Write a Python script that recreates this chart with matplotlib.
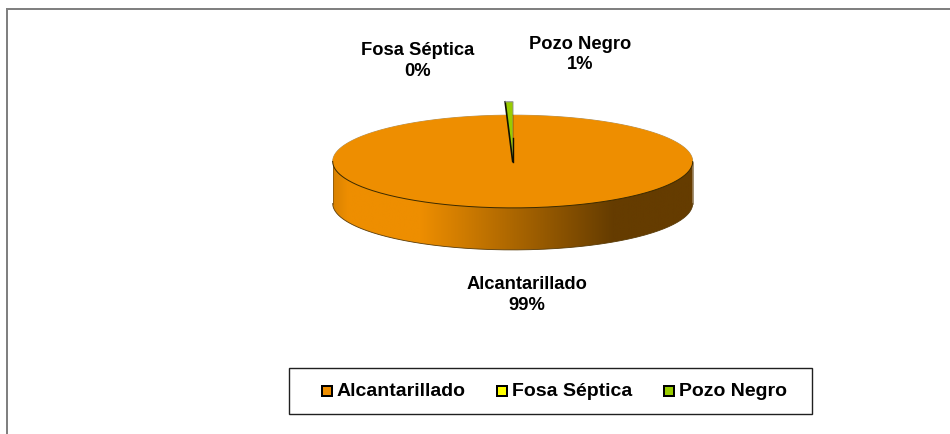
"""Recreate the 3D style pie of sanitation types (Alcantarillado, Fosa Septica, Pozo Negro)."""

import matplotlib

matplotlib.use("Agg")

import matplotlib.patches as mpatches
import matplotlib.pyplot as plt
import numpy as np
from matplotlib.colors import LinearSegmentedColormap

plt.rcParams["font.family"] = ["Liberation Sans", "DejaVu Sans"]

CATEGORIES = ["Alcantarillado", "Fosa Séptica", "Pozo Negro"]
VALUES = [99.48, 0.0, 0.52]
PERCENT_LABELS = ["99%", "0%", "1%"]
COLORS = ["#ee8e00", "#ffff00", "#99cc00"]

WIDTH, HEIGHT = 950, 434
CX, CY = 512.7, 161.5
RX, RY = 180.0, 46.4
DEPTH = 42.0
EXPLODE = {"Pozo Negro": 1.287}


def wedge_polygon(start_deg, end_deg, radius_scale=1.0):
    angles = np.radians(np.linspace(start_deg, end_deg, 400))
    xs = CX + RX * radius_scale * np.cos(angles)
    ys = CY - RY * radius_scale * np.sin(angles)
    return np.column_stack([np.r_[CX, xs], np.r_[CY, ys]])


fig = plt.figure(figsize=(WIDTH / 100, HEIGHT / 100), dpi=100)
ax = fig.add_axes([0, 0, 1, 1])
ax.set_xlim(0, WIDTH)
ax.set_ylim(HEIGHT, 0)
ax.axis("off")

# outer chart frame, only top and left are inside the picture
ax.plot([7, 7, WIDTH], [HEIGHT, 9, 9], color="#808080", lw=1.44, solid_joinstyle="miter")

# side wall of the pie with the left-to-right shading
side_cmap = LinearSegmentedColormap.from_list(
    "side",
    [(0.0, "#d98200"), (0.04, "#ee8e00"), (0.24, "#ee8e00"),
     (0.78, "#653c00"), (1.0, "#653c00")],
)
gradient = np.linspace(0, 1, 512).reshape(1, -1)
side_image = ax.imshow(
    gradient,
    extent=[CX - RX, CX + RX, CY + RY + DEPTH, CY - RY],
    cmap=side_cmap,
    aspect="auto",
    zorder=2,
)
angles = np.radians(np.linspace(180, 360, 300))
bottom_x = CX + RX * np.cos(angles)
bottom_y = CY - RY * np.sin(angles) + DEPTH
side_outline = np.column_stack(
    [np.r_[CX - RX, bottom_x, CX + RX], np.r_[CY, bottom_y, CY]]
)
side_patch = mpatches.Polygon(side_outline, closed=True, transform=ax.transData)
side_image.set_clip_path(side_patch)
ax.plot(bottom_x, bottom_y, color="#5a3c08", lw=0.6, zorder=3)
ax.plot([CX - RX, CX - RX], [CY, CY + DEPTH], color="#7a5010", lw=0.5, zorder=3)
ax.plot([CX + RX, CX + RX], [CY, CY + DEPTH], color="#5a3c08", lw=0.4, zorder=3)

# top face, slices start at twelve o'clock and run clockwise
start = 90.0
for name, value, color in zip(CATEGORIES, VALUES, COLORS):
    sweep = 360.0 * value / sum(VALUES)
    if sweep > 0:
        scale = EXPLODE.get(name, 1.0)
        polygon = wedge_polygon(start - sweep, start, scale)
        ax.add_patch(
            mpatches.Polygon(polygon, closed=True, facecolor=color, edgecolor="none", zorder=4)
        )
        if name in EXPLODE:
            # dark cut faces of the thin pulled slice, heavier near the tip
            tip = polygon[0]
            right_end = polygon[1]
            left_end = polygon[-1]
            ax.plot(
                [tip[0], left_end[0]], [tip[1], left_end[1]], color="#101000", lw=1.2, zorder=6
            )
            ax.plot(
                [tip[0], right_end[0]], [tip[1], right_end[1]], color="#101000", lw=0.3, zorder=6
            )
            ax.plot(
                [tip[0], tip[0] + 0.4 * (right_end[0] - tip[0])],
                [tip[1], tip[1] + 0.4 * (right_end[1] - tip[1])],
                color="#101000", lw=1.0, zorder=6,
            )
            ax.plot(polygon[1:, 0], polygon[1:, 1], color="#909090", lw=0.8, zorder=6)
    start -= sweep

# rim of the top face, lighter on the far side
rim = np.radians(np.linspace(0, 180, 300))
rim_x = CX + RX * np.cos(rim)
rim_y = CY - RY * np.sin(rim)
ax.plot(rim_x, rim_y, color="#a08a60", lw=0.6, zorder=3.5)
ax.plot(rim_x, 2 * CY - rim_y, color="#3a2a00", lw=0.7, zorder=5)

# data labels
label_style = dict(
    ha="center", va="center", fontsize=13.2, fontweight="bold", color="black",
    linespacing=1.27,
)
ax.text(527, 295, f"{CATEGORIES[0]}\n{PERCENT_LABELS[0]}", **label_style)
ax.text(418, 61, f"{CATEGORIES[1]}\n{PERCENT_LABELS[1]}", **label_style)
ax.text(580, 54.5, f"{CATEGORIES[2]}\n{PERCENT_LABELS[2]}", **label_style)

# legend box
ax.add_patch(
    mpatches.Rectangle(
        (289, 368), 523, 46, facecolor="white", edgecolor="#202020", lw=1.0, zorder=2
    )
)
legend_x = [326.7, 502, 668.5]
for x_pos, name, color in zip(legend_x, CATEGORIES, COLORS):
    ax.add_patch(
        mpatches.Rectangle(
            (x_pos - 5, 385.5), 10, 10, facecolor=color, edgecolor="black", lw=1.44, zorder=3
        )
    )
    ax.text(
        x_pos + 10.2, 391, name, ha="left", va="center", fontsize=14,
        fontweight="bold", color="black", zorder=3,
    )

fig.savefig("out.png", dpi=100, facecolor="white")
plt.close(fig)
